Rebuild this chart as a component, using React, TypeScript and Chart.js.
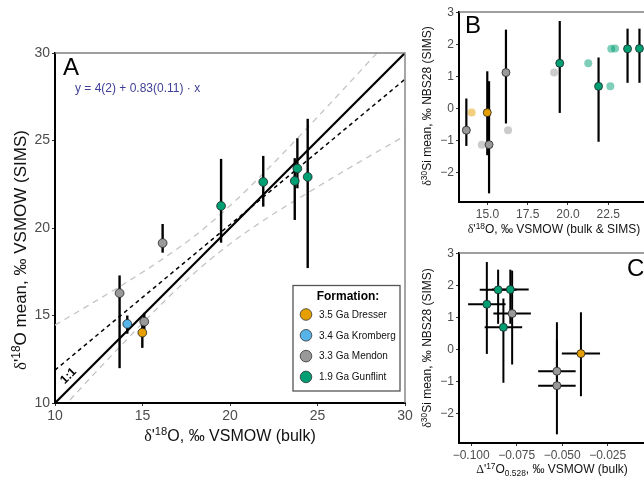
import React, { useEffect, useRef } from "react";
import { Chart, registerables } from "chart.js";
Chart.register(...registerables);

const FONT = "'Liberation Sans', Arial, sans-serif";
const SERIF = "'Liberation Serif', 'DejaVu Serif', serif";

// ---- shared categories ----
const formations = ["3.5 Ga Dresser", "3.4 Ga Kromberg", "3.3 Ga Mendon", "1.9 Ga Gunflint"];
const formationColors = ["#E69F00", "#56B4E9", "#999999", "#009E73"];
const formationFaded = ["rgba(230,159,0,0.5)", "rgba(86,180,233,0.5)", "rgba(153,153,153,0.5)", "rgba(0,158,115,0.5)"];

// ---- panel A: SIMS vs bulk d18O ----
const aFormation = [2, 1, 0, 2, 2, 3, 3, 3, 3, 3];
const aBulk = [13.69, 14.13, 14.99, 15.1, 16.15, 19.49, 21.9, 23.7, 23.85, 24.44];
const aSims = [16.28, 14.52, 14.02, 14.65, 19.14, 21.26, 22.63, 22.69, 23.4, 22.92];
const aSimsLow = [11.99, 13.96, 13.15, 14.15, 18.59, 19.16, 21.22, 20.46, 22.27, 17.71];
const aSimsHigh = [17.29, 15.0, 14.6, 15.15, 20.23, 23.95, 24.12, 23.99, 25.13, 26.24];
const aTicks = [10, 15, 20, 25, 30];
const oneToOneX = [10, 30];
const oneToOneY = [10, 30];
const fitX = [10, 30];
const fitY = [11.88, 28.5];
const bandX = [10, 12, 14, 16, 18, 20, 22, 24, 26, 28, 30];
const bandUpper = [14.45, 15.63, 16.84, 18.13, 19.56, 21.27, 23.21, 25.28, 27.41, 29.57, 31.75];
const bandLower = [9.25, 11.41, 13.52, 15.57, 17.46, 19.09, 20.49, 21.74, 22.95, 24.12, 25.27];

// ---- panels B & C: d30Si ----
const siSample = [0, 2, 3, 4, 5, 6, 7, 9]; // rows of panel A samples
const siMean = [-0.67, -0.12, -1.12, 1.13, 1.42, 0.7, 1.87, 1.88];
const siLow = [-1.16, -1.45, -2.64, -0.46, -0.13, -1.03, 0.81, 0.81];
const siHigh = [0.32, 1.17, 0.86, 2.47, 2.74, 1.6, 2.5, 2.5];
const d17 = [-0.0529, -0.0397, -0.0529, -0.0775, -0.0914, -0.0823, -0.0852, -0.0785];
const d17Err = [0.0103, 0.0105, 0.0103, 0.0103, 0.0103, 0.0103, 0.0101, 0.0101];
const bXTicks = [15, 17.5, 20, 22.5];
const siTicks = [-2, -1, 0, 1, 2, 3];
const cXTicks = [-0.1, -0.075, -0.05, -0.025];

type Seg = { t: string; k?: "sup" | "sub"; serif?: boolean };

function drawRich(ctx: CanvasRenderingContext2D, segs: Seg[], cx: number, cy: number, size: number, color: string, rotate = false) {
  ctx.save();
  ctx.translate(cx, cy);
  if (rotate) ctx.rotate(-Math.PI / 2);
  ctx.fillStyle = color;
  ctx.textBaseline = "alphabetic";
  ctx.textAlign = "left";
  const fontFor = (s: Seg) => `${s.k ? size * 0.7 : size}px ${s.serif ? SERIF : FONT}`;
  const widths = segs.map((s) => {
    ctx.font = fontFor(s);
    return ctx.measureText(s.t).width;
  });
  const total = widths.reduce((a, b) => a + b, 0);
  let x = -total / 2;
  const base = size * 0.36;
  segs.forEach((s, i) => {
    ctx.font = fontFor(s);
    const dy = s.k === "sup" ? -size * 0.38 : s.k === "sub" ? size * 0.24 : 0;
    ctx.fillText(s.t, x, base + dy);
    x += widths[i];
  });
  ctx.restore();
}

function errorBarPlugin(id: string, datasetIndex: number, xs: number[], ys: number[], yLow: number[] | null, yHigh: number[] | null, xLow: number[] | null, xHigh: number[] | null, width: number) {
  return {
    id,
    beforeDatasetDraw(chart: any, args: any) {
      if (args.index !== datasetIndex) return;
      const { ctx, chartArea: ca, scales } = chart;
      const sx = scales.x, sy = scales.y;
      ctx.save();
      ctx.beginPath();
      ctx.rect(ca.left, ca.top, ca.right - ca.left, ca.bottom - ca.top);
      ctx.clip();
      ctx.strokeStyle = "#000";
      ctx.lineWidth = width;
      ctx.lineCap = "butt";
      for (let i = 0; i < xs.length; i++) {
        if (yLow && yHigh) {
          const px = sx.getPixelForValue(xs[i]);
          ctx.beginPath();
          ctx.moveTo(px, sy.getPixelForValue(yLow[i]));
          ctx.lineTo(px, sy.getPixelForValue(yHigh[i]));
          ctx.stroke();
        }
        if (xLow && xHigh) {
          const py = sy.getPixelForValue(ys[i]);
          ctx.beginPath();
          ctx.moveTo(sx.getPixelForValue(xLow[i]), py);
          ctx.lineTo(sx.getPixelForValue(xHigh[i]), py);
          ctx.stroke();
        }
      }
      ctx.restore();
    },
  };
}

function frameTopRight(chart: any) {
  const { ctx, chartArea: ca } = chart;
  ctx.save();
  ctx.strokeStyle = "#808080";
  ctx.lineWidth = 1.4;
  ctx.beginPath();
  ctx.moveTo(ca.left, ca.top);
  ctx.lineTo(ca.right, ca.top);
  ctx.lineTo(ca.right, ca.bottom);
  ctx.stroke();
  ctx.restore();
}

function axis(min: number, max: number, ticks: number[], fmt: (v: number) => string, size: number, dir: "x" | "y", fit: number) {
  return {
    type: "linear",
    min,
    max,
    afterBuildTicks: (scale: any) => {
      scale.ticks = ticks.map((v) => ({ value: v }));
    },
    afterFit: (scale: any) => {
      if (dir === "y") scale.width = fit;
      else scale.height = fit;
    },
    ticks: {
      color: "#4D4D4D",
      font: { family: FONT, size },
      padding: 2,
      autoSkip: false,
      maxRotation: 0,
      callback: (v: any) => fmt(Number(v)),
    },
    grid: { display: true, drawOnChartArea: false, drawTicks: true, tickLength: 3, color: "#333333", tickColor: "#333333", lineWidth: 1 },
    border: { display: true, color: "#000000", width: 2 },
    title: { display: false },
  };
}

const fmtInt = (v: number) => String(Math.round(v));
const fmtOne = (v: number) => v.toFixed(1);
const fmtSigned = (v: number) => (v < 0 ? "\u2212" + Math.abs(v) : String(v));
const fmtThree = (v: number) => (v < 0 ? "\u2212" : "") + Math.abs(v).toFixed(3);

const baseOptions = {
  animation: false,
  responsive: false,
  devicePixelRatio: 1,
  events: [],
  plugins: { legend: { display: false }, tooltip: { enabled: false } },
};

function configA(): any {
  const overlay = {
    id: "overlayA",
    afterDraw(chart: any) {
      const ctx = chart.ctx as CanvasRenderingContext2D;
      frameTopRight(chart);
      // panel letter
      ctx.save();
      ctx.fillStyle = "#000";
      ctx.font = `24px ${FONT}`;
      ctx.textBaseline = "alphabetic";
      ctx.fillText("A", 63, 75);
      // equation
      ctx.fillStyle = "#3F3F97";
      ctx.font = `12px ${FONT}`;
      ctx.fillText("y = 4(2) + 0.83(0.11) \u00B7 x", 75, 92);
      // 1:1 label
      ctx.translate(68.5, 376);
      ctx.rotate(-Math.PI / 4);
      ctx.fillStyle = "#000";
      ctx.font = `bold 12px ${FONT}`;
      ctx.textAlign = "center";
      ctx.textBaseline = "middle";
      ctx.fillText("1:1", 0, 0);
      ctx.restore();
      // legend
      ctx.save();
      ctx.fillStyle = "#fff";
      ctx.fillRect(293, 285.5, 107, 105.5);
      ctx.strokeStyle = "#555";
      ctx.lineWidth = 1.3;
      ctx.strokeRect(293, 285.5, 107, 105.5);
      ctx.fillStyle = "#000";
      ctx.font = `bold 12px ${FONT}`;
      ctx.textAlign = "center";
      ctx.textBaseline = "middle";
      ctx.fillText("Formation:", 348, 297);
      ctx.textAlign = "left";
      ctx.font = `10px ${FONT}`;
      formations.forEach((f, i) => {
        const cy = 314.5 + i * 20.8;
        ctx.beginPath();
        ctx.arc(306, cy, 5.8, 0, Math.PI * 2);
        ctx.fillStyle = formationColors[i];
        ctx.fill();
        ctx.strokeStyle = "#333";
        ctx.lineWidth = 0.8;
        ctx.stroke();
        ctx.fillStyle = "#111";
        ctx.fillText(f, 319, cy + 0.5);
      });
      ctx.restore();
      // axis titles
      drawRich(ctx, [{ t: "\u03B4", serif: true }, { t: "'" }, { t: "18", k: "sup" }, { t: "O, \u2030 VSMOW (bulk)" }], 230, 435, 16, "#111");
      drawRich(ctx, [{ t: "\u03B4", serif: true }, { t: "'" }, { t: "18", k: "sup" }, { t: "O mean, \u2030 VSMOW (SIMS)" }], 20, 250, 17, "#111", true);
    },
  };
  const pts = aBulk.map((x, i) => ({ x, y: aSims[i] }));
  return {
    type: "scatter",
    data: {
      datasets: [
        { data: pts, pointRadius: 4.4, pointBackgroundColor: aFormation.map((f) => formationColors[f]), pointBorderColor: "#222", pointBorderWidth: 0.8, showLine: false, order: 1 },
        { data: bandX.map((x, i) => ({ x, y: bandUpper[i] })), showLine: true, pointRadius: 0, borderColor: "#C4C4C4", borderWidth: 1.3, borderDash: [6, 5], cubicInterpolationMode: "monotone", order: 6 },
        { data: bandX.map((x, i) => ({ x, y: bandLower[i] })), showLine: true, pointRadius: 0, borderColor: "#C4C4C4", borderWidth: 1.3, borderDash: [6, 5], cubicInterpolationMode: "monotone", order: 6 },
        { data: fitX.map((x, i) => ({ x, y: fitY[i] })), showLine: true, pointRadius: 0, borderColor: "#000", borderWidth: 1.5, borderDash: [4, 3.5], order: 5 },
        { data: oneToOneX.map((x, i) => ({ x, y: oneToOneY[i] })), showLine: true, pointRadius: 0, borderColor: "#000", borderWidth: 2.2, order: 4 },
      ],
    },
    options: {
      ...baseOptions,
      layout: { padding: { left: 0, top: 53, right: 15, bottom: 40 } },
      scales: {
        x: axis(10, 30, aTicks, fmtInt, 14, "x", 40),
        y: axis(10, 30, aTicks, fmtInt, 14, "y", 55),
      },
    },
    plugins: [errorBarPlugin("errA", 0, aBulk, aSims, aSimsLow, aSimsHigh, null, null, 2.4), overlay],
  };
}

function configB(): any {
  const overlay = {
    id: "overlayB",
    afterDraw(chart: any) {
      const ctx = chart.ctx as CanvasRenderingContext2D;
      frameTopRight(chart);
      ctx.save();
      ctx.fillStyle = "#000";
      ctx.font = `24px ${FONT}`;
      ctx.fillText("B", 45, 33);
      ctx.restore();
      drawRich(ctx, [{ t: "\u03B4", serif: true }, { t: "'" }, { t: "18", k: "sup" }, { t: "O, \u2030 VSMOW (bulk & SIMS)" }], 134, 229, 12, "#111");
      drawRich(ctx, [{ t: "\u03B4", serif: true }, { t: "30", k: "sup" }, { t: "Si mean, \u2030 NBS28 (SIMS)" }], 7, 106, 12, "#111", true);
    },
  };
  const xsBulk = siSample.map((k) => aBulk[k]);
  const xsSims = siSample.map((k) => aSims[k]);
  const cols = siSample.map((k) => aFormation[k]);
  return {
    type: "scatter",
    data: {
      datasets: [
        { data: xsSims.map((x, i) => ({ x, y: siMean[i] })), pointRadius: 4, pointBackgroundColor: cols.map((c) => formationFaded[c]), pointBorderWidth: 0, showLine: false, order: 2 },
        { data: xsBulk.map((x, i) => ({ x, y: siMean[i] })), pointRadius: 4, pointBackgroundColor: cols.map((c) => formationColors[c]), pointBorderColor: "#222", pointBorderWidth: 0.8, showLine: false, order: 1 },
      ],
    },
    options: {
      ...baseOptions,
      layout: { padding: { left: 0, top: 12, right: 12, bottom: 13 } },
      scales: {
        x: axis(13.234, 24.97, bXTicks, fmtOne, 12, "x", 25),
        y: axis(-2.91, 3.02, siTicks, fmtSigned, 12, "y", 39),
      },
    },
    plugins: [errorBarPlugin("errB", 1, xsBulk, siMean, siLow, siHigh, null, null, 2.2), overlay],
  };
}

function configC(): any {
  const overlay = {
    id: "overlayC",
    afterDraw(chart: any) {
      const ctx = chart.ctx as CanvasRenderingContext2D;
      frameTopRight(chart);
      ctx.save();
      ctx.fillStyle = "#000";
      ctx.font = `24px ${FONT}`;
      ctx.fillText("C", 207, 36);
      ctx.restore();
      drawRich(ctx, [{ t: "\u0394", serif: true }, { t: "'" }, { t: "17", k: "sup" }, { t: "O" }, { t: "0.528", k: "sub" }, { t: ", \u2030 VSMOW (bulk)" }], 132, 229, 12, "#111");
      drawRich(ctx, [{ t: "\u03B4", serif: true }, { t: "30", k: "sup" }, { t: "Si mean, \u2030 NBS28 (SIMS)" }], 7, 108, 12, "#111", true);
    },
  };
  const cols = siSample.map((k) => aFormation[k]);
  const xLow = d17.map((v, i) => v - d17Err[i]);
  const xHigh = d17.map((v, i) => v + d17Err[i]);
  return {
    type: "scatter",
    data: {
      datasets: [
        { data: d17.map((x, i) => ({ x, y: siMean[i] })), pointRadius: 4, pointBackgroundColor: cols.map((c) => formationColors[c]), pointBorderColor: "#222", pointBorderWidth: 0.8, showLine: false, order: 1 },
      ],
    },
    options: {
      ...baseOptions,
      layout: { padding: { left: 0, top: 13, right: 15, bottom: 15 } },
      scales: {
        x: axis(-0.1067, -0.0045, cXTicks, fmtThree, 12, "x", 25),
        y: axis(-2.91, 3.02, siTicks, fmtSigned, 12, "y", 39),
      },
    },
    plugins: [errorBarPlugin("errC", 0, d17, siMean, siLow, siHigh, xLow, xHigh, 2.0), overlay],
  };
}

export default function App() {
  const refA = useRef<HTMLCanvasElement>(null);
  const refB = useRef<HTMLCanvasElement>(null);
  const refC = useRef<HTMLCanvasElement>(null);
  useEffect(() => {
    Chart.defaults.font.family = FONT;
    const charts = [
      new Chart(refA.current as HTMLCanvasElement, configA()),
      new Chart(refB.current as HTMLCanvasElement, configB()),
      new Chart(refC.current as HTMLCanvasElement, configC()),
    ];
    return () => charts.forEach((c) => c.destroy());
  }, []);
  return (
    <div style={{ position: "fixed", left: 0, top: 0, width: 644, height: 483, overflow: "hidden", background: "#fff" }}>
      <canvas ref={refA} width={420} height={483} style={{ position: "absolute", left: 0, top: 0, width: 420, height: 483 }} />
      <canvas ref={refB} width={240} height={240} style={{ position: "absolute", left: 420, top: 0, width: 240, height: 240 }} />
      <canvas ref={refC} width={240} height={243} style={{ position: "absolute", left: 420, top: 240, width: 240, height: 243 }} />
    </div>
  );
}
